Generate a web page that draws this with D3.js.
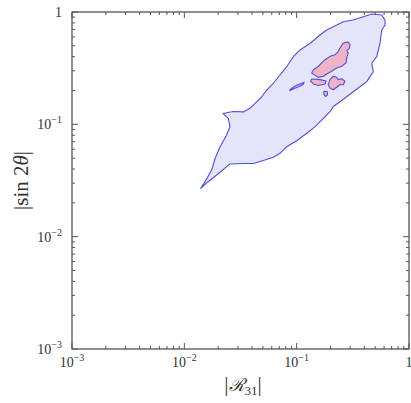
<meta charset='utf-8'>
<script src="https://d3js.org/d3.v7.min.js"></script>
<body style="margin:0"></body>
<script>

// DATA  (|R31|, |sin 2theta|)
var decades = [1e-3, 1e-2, 1e-1, 1];
var decadeLabels = [['10', '\u22123'], ['10', '\u22122'], ['10', '\u22121'], ['1', '']];

var outerRegion = [
    [0.0140, 0.0269], [0.0153, 0.0309], [0.0175, 0.0392], [0.0188, 0.0499],
    [0.0208, 0.0632], [0.0238, 0.0804], [0.0255, 0.0953], [0.0246, 0.113],
    [0.0220, 0.125], [0.0273, 0.130], [0.0335, 0.129], [0.0384, 0.139],
    [0.0426, 0.154], [0.0489, 0.176], [0.0541, 0.202], [0.0619, 0.232],
    [0.0711, 0.275], [0.0815, 0.326], [0.0933, 0.400], [0.107, 0.459],
    [0.132, 0.527], [0.161, 0.624], [0.185, 0.692], [0.227, 0.766],
    [0.260, 0.820], [0.319, 0.849], [0.392, 0.908], [0.466, 0.960],
    [0.572, 0.941], [0.612, 0.849], [0.612, 0.766], [0.572, 0.692],
    [0.552, 0.527], [0.516, 0.400], [0.466, 0.350], [0.481, 0.294],
    [0.450, 0.266], [0.420, 0.240], [0.366, 0.216], [0.319, 0.195],
    [0.279, 0.176], [0.243, 0.159], [0.212, 0.144], [0.198, 0.130],
    [0.173, 0.113], [0.146, 0.0953], [0.123, 0.0832], [0.100, 0.0715],
    [0.0815, 0.0632], [0.0711, 0.0552], [0.0619, 0.0509], [0.0505, 0.0477],
    [0.0411, 0.0448], [0.0335, 0.0448], [0.0255, 0.0444], [0.0194, 0.0354],
    [0.0162, 0.0307]
];

var pinkMain = [
    [0.260, 0.530], [0.285, 0.541], [0.299, 0.512], [0.294, 0.472],
    [0.279, 0.453], [0.288, 0.432], [0.279, 0.390], [0.275, 0.352],
    [0.252, 0.329], [0.227, 0.317], [0.205, 0.297], [0.185, 0.281],
    [0.173, 0.268], [0.156, 0.262], [0.146, 0.273], [0.136, 0.286],
    [0.141, 0.306], [0.156, 0.329], [0.167, 0.352], [0.179, 0.376],
    [0.198, 0.403], [0.220, 0.417], [0.235, 0.447], [0.243, 0.478],
    [0.252, 0.505]
];
var pinkLower = [
    [0.136, 0.253], [0.161, 0.250], [0.183, 0.243], [0.179, 0.229],
    [0.156, 0.222], [0.141, 0.229], [0.133, 0.241]
];
var pinkRight = [
    [0.198, 0.250], [0.212, 0.268], [0.227, 0.262], [0.235, 0.250],
    [0.252, 0.255], [0.269, 0.242], [0.260, 0.225], [0.243, 0.225],
    [0.227, 0.214], [0.212, 0.203], [0.198, 0.211], [0.191, 0.225]
];
var pinkSmall = [
    [0.175, 0.197], [0.187, 0.196], [0.188, 0.183], [0.181, 0.177],
    [0.175, 0.184]
];
var blueSliver = [
    [0.0873, 0.204], [0.0967, 0.2195], [0.107, 0.229], [0.116, 0.236],
    [0.114, 0.226], [0.105, 0.217], [0.0928, 0.206], [0.0873, 0.200]
];

// LAYOUT
var ww = 411, wh = 403;
var pl = 72, pr = 409, pt = 12, pb = 349;
var ink = '#555555';
var outline = '#5050dc';

var svg = d3.select('body').append('svg')
    .attr('width', ww)
    .attr('height', wh)
    .style('background', 'white');

var x = d3.scaleLog().domain([1e-3, 1]).range([pl, pr]);
var y = d3.scaleLog().domain([1e-3, 1]).range([pb, pt]);

var line = d3.line()
    .x(function (d) { return x(d[0]); })
    .y(function (d) { return y(d[1]); });

// REGIONS
var plot = svg.append('g');
plot.append('path')
    .datum(outerRegion)
    .attr('d', function (d) { return line(d) + 'Z'; })
    .attr('fill', '#e4e4fa')
    .attr('stroke', outline)
    .attr('stroke-width', 1.1)
    .attr('stroke-linejoin', 'round');

plot.append('path')
    .datum(blueSliver)
    .attr('d', function (d) { return line(d) + 'Z'; })
    .attr('fill', '#c8c8f4')
    .attr('stroke', outline)
    .attr('stroke-width', 1.1);

plot.selectAll('.pink')
    .data([pinkMain, pinkLower, pinkRight, pinkSmall])
    .enter().append('path')
    .attr('class', 'pink')
    .attr('d', function (d) { return line(d) + 'Z'; })
    .attr('fill', '#eeb4c6')
    .attr('stroke', outline)
    .attr('stroke-width', 1.1)
    .attr('stroke-linejoin', 'round');

// FRAME + TICKS
var minor = [];
for (var k = 0; k < 3; k++) {
    for (var m = 2; m < 10; m++) minor.push(m * decades[k]);
}
var axes = svg.append('g');
function ticks(vals, len) {
    vals.forEach(function (v) {
        var g = axes.append('g').attr('stroke', ink).attr('stroke-width', 1);
        g.append('line').attr('x1', x(v)).attr('x2', x(v)).attr('y1', pb).attr('y2', pb - len);
        g.append('line').attr('x1', x(v)).attr('x2', x(v)).attr('y1', pt).attr('y2', pt + len);
        g.append('line').attr('y1', y(v)).attr('y2', y(v)).attr('x1', pl).attr('x2', pl + len);
        g.append('line').attr('y1', y(v)).attr('y2', y(v)).attr('x1', pr).attr('x2', pr - len);
    });
}
ticks(decades, 6);
ticks(minor, 3);

axes.append('rect')
    .attr('x', pl).attr('y', pt)
    .attr('width', pr - pl).attr('height', pb - pt)
    .attr('fill', 'none')
    .attr('stroke', ink)
    .attr('stroke-width', 1.3);

// TICK LABELS
var font = 'Liberation Serif';
decades.forEach(function (v, i) {
    var t = svg.append('text')
        .attr('x', x(v)).attr('y', pb + 18)
        .attr('font-family', font).attr('font-size', 14)
        .attr('text-anchor', 'middle')
        .attr('fill', '#333');
    t.append('tspan').text(decadeLabels[i][0]);
    if (decadeLabels[i][1]) {
        t.append('tspan').attr('dy', -6).attr('font-size', 10).text(decadeLabels[i][1]);
    }
    var u = svg.append('text')
        .attr('x', pl - 10).attr('y', y(v) + 5)
        .attr('font-family', font).attr('font-size', 14)
        .attr('text-anchor', 'end')
        .attr('fill', '#333');
    u.append('tspan').text(decadeLabels[i][0]);
    if (decadeLabels[i][1]) {
        u.append('tspan').attr('dy', -6).attr('font-size', 10).text(decadeLabels[i][1]);
    }
});

// AXIS TITLES
var xt = svg.append('text')
    .attr('x', 243).attr('y', 391)
    .attr('font-family', font).attr('font-size', 21)
    .attr('text-anchor', 'middle')
    .attr('fill', '#333');
xt.append('tspan').text('|');
xt.append('tspan').attr('font-style', 'italic').attr('font-family', 'DejaVu Serif').attr('font-size', 18).text('\u211B');
xt.append('tspan').attr('dy', 4).attr('font-size', 13).text('31');
xt.append('tspan').attr('dy', -4).text('|');

var yt = svg.append('text')
    .attr('transform', 'translate(28,' + ((pt + pb) / 2) + ') rotate(-90)')
    .attr('font-family', font).attr('font-size', 21)
    .attr('text-anchor', 'middle')
    .attr('fill', '#333');
yt.append('tspan').text('|sin 2');
yt.append('tspan').attr('font-style', 'italic').text('\u03B8');
yt.append('tspan').text('|');

</script>
